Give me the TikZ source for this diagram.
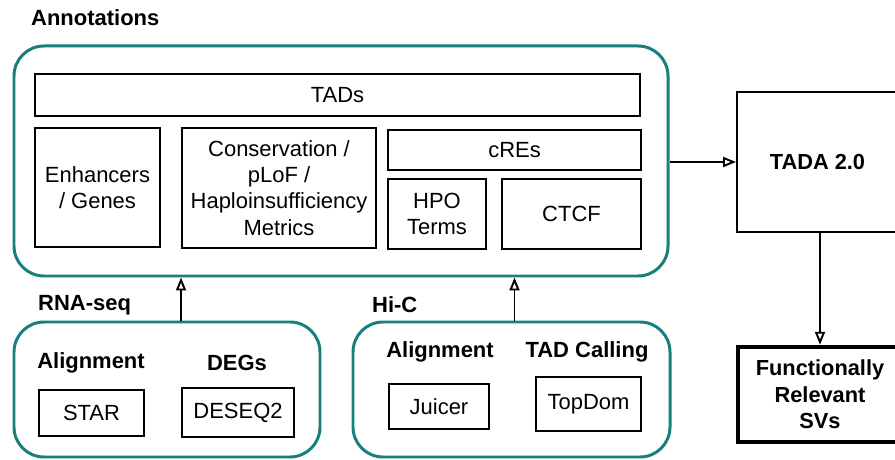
\documentclass[tikz,border=0pt]{standalone}
\usepackage{fontspec}
\setmainfont{Liberation Sans}
\usepackage{tikz}
\usetikzlibrary{arrows.meta, positioning}
\definecolor{tealframe}{HTML}{17807E}

\begin{document}
\begin{tikzpicture}[
    every node/.style={font=\fontsize{12.5}{14.9}\selectfont},
    group/.style={rectangle, rounded corners=0.6cm, draw=tealframe, line width=1.7pt},
    item/.style={rectangle, draw=black, line width=1.1pt, align=center, inner sep=0pt},
    head/.style={font=\fontsize{12.5}{14.9}\selectfont\bfseries},
    flow/.style={-{Triangle[open, length=2.6mm, width=2.0mm]}, line width=1.1pt}
]
\useasboundingbox (0,0) rectangle (17.9,9.18);

% Annotations block
\node[head, anchor=west] (annlab) at (0.50,8.82) {Annotations};
\node[group, minimum width=13.08cm, minimum height=4.6cm] (annot) at (6.82,5.96) {};
\node[item, minimum width=12.1cm, minimum height=0.84cm] (tads) at (6.75,7.28) {TADs};
\node[item, minimum width=2.5cm, minimum height=2.38cm] (enh) at (1.95,5.43) {Enhancers\\/ Genes};
\node[item, minimum width=3.88cm, minimum height=2.4cm] (cons) at (5.58,5.42) {Conservation /\\pLoF /\\Haploinsufficiency\\Metrics};
\node[item, minimum width=5.06cm, minimum height=0.8cm] (cres) at (10.29,6.18) {cREs};
\node[item, minimum width=1.96cm, minimum height=1.4cm] (hpo) at (8.74,4.90) {HPO\\Terms};
\node[item, minimum width=2.78cm, minimum height=1.4cm] (ctcf) at (11.43,4.90) {CTCF};

% Tool and output boxes
\node[item, minimum width=3.22cm, minimum height=2.8cm, font=\fontsize{12.4}{15}\selectfont\bfseries] (tada) at (16.35,5.94) {TADA 2.0};
\node[item, line width=2.5pt, minimum width=3.28cm, minimum height=1.9cm, font=\fontsize{12.4}{15}\selectfont\bfseries] (svs) at (16.40,1.29) {Functionally\\Relevant\\SVs};

% RNA-seq block
\node[head, anchor=west] (rnalab) at (0.64,3.08) {RNA-seq};
\node[group, minimum width=6.12cm, minimum height=2.7cm] (rna) at (3.34,1.39) {};
\node[head] (rnaaln) at (1.82,1.92) {Alignment};
\node[head] (degs) at (4.74,1.92) {DEGs};
\node[item, minimum width=2.1cm, minimum height=0.92cm] (star) at (1.83,0.92) {STAR};
\node[item, minimum width=2.24cm, minimum height=0.98cm] (deseq) at (4.76,0.93) {DESEQ2};

% Hi-C block
\node[head, anchor=west] (hiclab) at (7.32,3.08) {Hi-C};
\node[group, minimum width=6.34cm, minimum height=2.7cm] (hic) at (10.23,1.39) {};
\node[head] (hicaln) at (8.80,2.14) {Alignment};
\node[head] (tadcall) at (11.74,2.14) {TAD Calling};
\node[item, minimum width=2.0cm, minimum height=0.9cm] (juicer) at (8.78,1.05) {Juicer};
\node[item, minimum width=2.1cm, minimum height=1.08cm] (topdom) at (11.77,1.10) {TopDom};

% Flows
\draw[flow] (rna.north -| cons.west) -- (annot.south -| cons.west);
\draw[flow] (hic.north -| cres.north) -- (annot.south -| cres.north);
\draw[flow] (annot.east |- tada.west) -- (tada.west);
\draw[flow] (tada.south -| svs.north) -- (svs.north);
\end{tikzpicture}
\end{document}
